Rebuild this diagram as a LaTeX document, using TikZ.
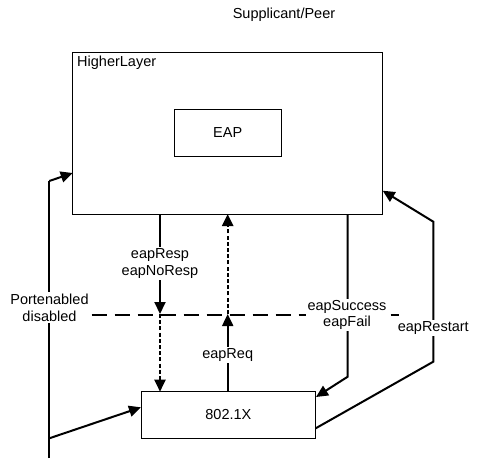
\documentclass[tikz,border=0pt]{standalone}
\usepackage{fontspec}
\setmainfont{Liberation Sans}
\usetikzlibrary{arrows.meta,calc}
\begin{document}
\begin{tikzpicture}[x=1pt,y=-1pt,
  font=\fontsize{14.5}{16.8}\selectfont,
  box/.style={draw, line width=0.9pt, inner sep=0pt, outer sep=0pt},
  tip/.style={-{Triangle[length=12pt,width=11pt]}},
  conn/.style={line width=2pt, tip},
  plain/.style={line width=2pt},
  dots/.style={line width=2.3pt, dash pattern=on 4pt off 2.2pt, tip},
  lbl/.style={fill=white, align=center, inner sep=1.5pt}]
\useasboundingbox (0,0) rectangle (501,464);
% boxes
\node[box, minimum width=310pt, minimum height=161.3pt, anchor=north west] (hl) at (72.7,52.7) {};
\node[anchor=west, inner sep=0pt] (hlt) at (77,63) {HigherLayer};
\node[box, minimum width=107.3pt, minimum height=47.7pt] (eap) at (227.7,132.9) {EAP};
\node[box, minimum width=174.7pt, minimum height=46.6pt] (dot) at (228.4,415) {802.1X};
\node[inner sep=0pt] (title) at (284,15) {Supplicant/Peer};
% coordinates
\coordinate (x1) at (160,314);
\coordinate (x2) at (227.7,314);
\coordinate (x3) at (347.7,315);
\coordinate (dl) at (91.7,315);
\coordinate (dr) at (399,315);
\coordinate (pb) at (49.3,458);
\coordinate (pt) at (49.3,181);
\coordinate (pm) at (49.3,438.3);
\coordinate (hlin) at (72.7,173);
\coordinate (dotin) at (141,407.3);
\coordinate (sc) at (347.7,376.7);
\coordinate (stip) at (316,397);
\coordinate (rs) at (315.7,428.3);
\coordinate (rb) at (433.3,361.7);
\coordinate (rt) at (433.3,221.7);
\coordinate (rtip) at (382.7,190.7);
% dashed boundary
\draw[line width=2pt, dash pattern=on 15pt off 8pt] (dl) -- (dr);
% left port line
\draw[plain] (pb) -- (pt);
\draw[conn] (pt) -- (hlin);
\draw[conn] (pm) -- (dotin);
\node[lbl] (port) at (49.5,307.5) {Portenabled\\disabled};
% eapResp
\draw[conn] (x1 |- hl.south) -- (x1);
\draw[dots] (x1) -- (x1 |- dot.north);
\node[lbl] (resp) at (160,263.5) {eapResp\\eapNoResp};
% eapReq
\draw[conn] (x2 |- dot.north) -- (x2);
\draw[dots] (x2) -- (x2 |- hl.south);
\node[lbl] (req) at (227.7,355) {eapReq};
% eapSuccess
\draw[conn] (x3 |- hl.south) -- (sc) -- (stip);
\node[lbl] (succ) at (347,315) {eapSuccess\\eapFail};
% eapRestart
\draw[conn] (rs) -- (rb) -- (rt) -- (rtip);
\node[lbl] (rest) at (433.3,328.3) {eapRestart};
\end{tikzpicture}
\end{document}
